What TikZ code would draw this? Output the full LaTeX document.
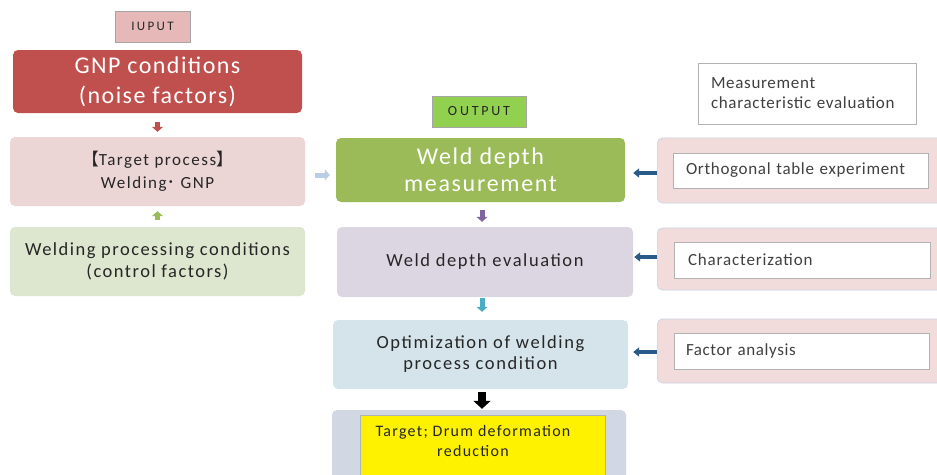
\documentclass[tikz,border=0pt]{standalone}
\usepackage{fontspec}
\setmainfont{Carlito}
\newfontfamily\cjk{Noto Sans CJK JP}
\usetikzlibrary{arrows.meta}
\definecolor{cgnp}{HTML}{C0504D}
\definecolor{ciuput}{HTML}{E6B9B8}
\definecolor{ctarget}{HTML}{ECD5D5}
\definecolor{cwpc}{HTML}{DDE6CE}
\definecolor{cout}{HTML}{92D050}
\definecolor{cwdm}{HTML}{9BBB59}
\definecolor{cwde}{HTML}{DCD6E2}
\definecolor{copt}{HTML}{D5E4EB}
\definecolor{cbot}{HTML}{D1D8E4}
\definecolor{cpink}{HTML}{F2DCDB}
\definecolor{cpanel}{HTML}{C8D3E2}
\definecolor{cdarkblue}{HTML}{2A5A8A}
\definecolor{cltblue}{HTML}{B9CDE5}
\definecolor{cpurple}{HTML}{8064A2}
\definecolor{cteal}{HTML}{4BACC6}
\definecolor{ctxt}{HTML}{262626}
\definecolor{cgtxt}{HTML}{404040}
\newcommand{\fsz}[3]{\fontsize{#1}{#2}\selectfont\addfontfeature{LetterSpace=#3}}
\tikzset{
  box/.style={rectangle, rounded corners=5pt, inner sep=0pt, align=center, text=ctxt},
  tag/.style={rectangle, draw=black!35, line width=0.8pt, inner sep=0pt, align=center, text=ctxt},
  panel/.style={rectangle, rounded corners=5pt, fill=cpink, draw=cpanel, line width=0.6pt, inner sep=0pt},
  wbox/.style={rectangle, fill=white, draw=black!30, line width=0.8pt, inner sep=0pt, text=cgtxt, align=left},
  barrow/.style={line width=5pt, -{Triangle[width=11pt,length=5pt]}},
  harrow/.style={cdarkblue, line width=4pt, -{Triangle[width=9pt,length=6pt]}},
}
\begin{document}
\begin{tikzpicture}[x=1pt,y=-1pt]
\clip (0,0) rectangle (937,474);
\fill[white] (0,0) rectangle (937,474);
% left column
\node[tag, fill=ciuput, minimum width=75pt, minimum height=31pt, font=\fsz{13}{15}{18}] (iuput) at (152.5,26.5) {IUPUT};
\node[box, fill=cgnp, text=white, minimum width=289pt, minimum height=63pt, font=\fsz{24}{30}{6}] (gnp) at (157.5,81.5) {GNP conditions\\(noise factors)};
\node[box, fill=ctarget, minimum width=295pt, minimum height=69pt, font=\fsz{17}{22.5}{9}] (target) at (157.5,171.5) {{\cjk 【}Target process{\cjk 】}\\Welding{\cjk ･} GNP};
\node[box, fill=cwpc, minimum width=295pt, minimum height=69pt, font=\fsz{18.5}{21.5}{8}] (wpc) at (157.5,261.5) {Welding processing conditions\\(control factors)};
% middle column
\node[tag, fill=cout, minimum width=94pt, minimum height=31pt, font=\fsz{14}{16}{20}] (output) at (479,111.5) {OUTPUT};
\node[box, fill=cwdm, text=white, minimum width=289pt, minimum height=64pt, font=\fsz{24}{27}{7}] (wdm) at (480.5,170) {Weld depth\\measurement};
\node[box, fill=cwde, minimum width=296pt, minimum height=70pt, font=\fsz{18.5}{21.5}{8.5}] (wde) at (485,262) {Weld depth evaluation};
\node[box, fill=copt, minimum width=295pt, minimum height=69pt, font=\fsz{18.5}{21}{8.5}] (opt) at (480.5,354.5) {Optimization of welding\\process condition};
\node[box, fill=cbot, minimum width=294pt, minimum height=80pt] (bot) at (479,450) {};
\node[rectangle, fill=yellow, draw=black!30, line width=0.8pt, minimum width=245pt, minimum height=70pt, inner sep=0pt] (yel) at (482.5,450) {};
\node[align=center, text=ctxt, inner sep=0pt, font=\fsz{16}{20}{8}] (ytxt) at (473,441) {Target; Drum deformation\\reduction};
% right column
\node[wbox, minimum width=218pt, minimum height=61pt, text width=192pt, font=\fsz{17}{20}{4}] (meas) at (807,93.5) {Measurement\\characteristic evaluation};
\node[panel, minimum width=300pt, minimum height=65pt, anchor=west] (p1) at (657,170.5) {};
\node[wbox, minimum width=255pt, minimum height=35pt, text width=229pt, font=\fsz{17}{20}{4}] (b1) at (800.5,170.5) {Orthogonal table experiment};
\node[panel, minimum width=300pt, minimum height=62pt, anchor=west] (p2) at (657,259) {};
\node[wbox, minimum width=256pt, minimum height=36pt, text width=228pt, font=\fsz{17}{20}{5}] (b2) at (802,260) {Characterization};
\node[panel, minimum width=300pt, minimum height=64pt, anchor=west] (p3) at (657,351) {};
\node[wbox, minimum width=255pt, minimum height=36pt, text width=231pt, font=\fsz{17}{20}{3.5}] (b3) at (801.5,351) {Factor analysis};
% arrows
\draw[barrow, cgnp, shorten <=9pt, shorten >=5pt] (gnp.south) -- (target.north);
\draw[barrow, cwdm, shorten <=7pt, shorten >=5pt] (wpc.north) -- (target.south);
\draw[barrow, cltblue, shorten <=10pt, shorten >=6pt] ([yshift=-3.5pt]target.east) -- ([yshift=-3.5pt]target.east -| wdm.west);
\draw[barrow, cpurple, shorten <=8pt, shorten >=5pt] ([xshift=1.5pt]wdm.south) -- ([xshift=1.5pt]wdm.south |- wde.north);
\draw[barrow, cteal, shorten <=1pt, shorten >=8pt] ([xshift=-3pt]wde.south) -- ([xshift=-3pt]wde.south |- opt.north);
\draw[black, line width=8pt, -{Triangle[width=17pt,length=8pt]}, shorten <=3pt, shorten >=1pt] ([xshift=1.5pt]opt.south) -- ([xshift=1.5pt]opt.south |- bot.north);
\draw[harrow, shorten >=8pt] ([yshift=-2.5pt]p1.west) -- ([yshift=-2.5pt]p1.west -| wdm.east);
\draw[harrow, shorten >=1pt] ([yshift=2pt]p2.west) -- ([yshift=2pt]p2.west -| wde.east);
\draw[harrow, shorten >=5pt] ([yshift=-1pt]p3.west) -- ([yshift=-1pt]p3.west -| opt.east);
\end{tikzpicture}
\end{document}
